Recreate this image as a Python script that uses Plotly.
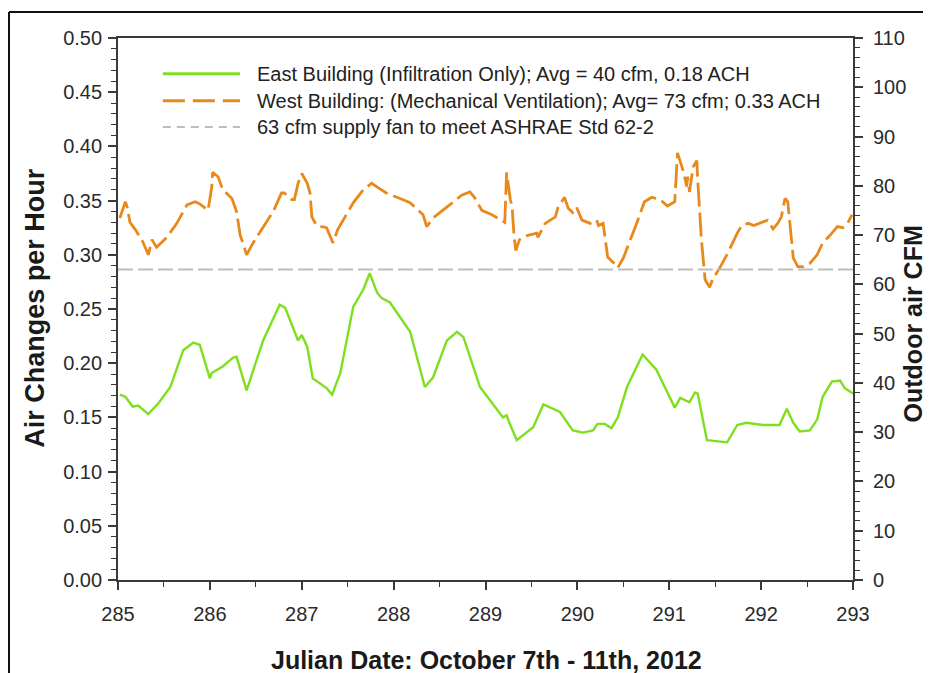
import plotly.graph_objects as go

# ---- data ----
east_day = [285.02, 285.08, 285.16, 285.22, 285.33, 285.44, 285.57, 285.71, 285.82, 285.89, 286.0, 286.02,
            286.14, 286.25, 286.29, 286.40, 286.58, 286.76, 286.82, 286.96, 287.0, 287.06, 287.12, 287.27,
            287.33, 287.42, 287.56, 287.67, 287.74, 287.82, 287.87, 287.96, 288.18, 288.34, 288.43, 288.58,
            288.69, 288.76, 288.94, 289.05, 289.19, 289.23, 289.26, 289.34, 289.52, 289.63, 289.81, 289.95,
            290.06, 290.17, 290.22, 290.30, 290.37, 290.44, 290.54, 290.71, 290.86, 291.06, 291.12, 291.22,
            291.28, 291.31, 291.41, 291.63, 291.74, 291.84, 292.02, 292.20, 292.28, 292.35, 292.42, 292.53,
            292.61, 292.67, 292.77, 292.86, 292.91, 293.0]
east_ach = [0.171, 0.169, 0.160, 0.161, 0.153, 0.163, 0.178, 0.212, 0.219, 0.217, 0.186, 0.191,
            0.197, 0.205, 0.206, 0.175, 0.221, 0.254, 0.251, 0.221, 0.226, 0.215, 0.186, 0.177,
            0.171, 0.191, 0.252, 0.268, 0.283, 0.265, 0.260, 0.256, 0.229, 0.178, 0.187, 0.221,
            0.229, 0.224, 0.178, 0.166, 0.150, 0.152, 0.145, 0.129, 0.141, 0.162, 0.155, 0.138,
            0.136, 0.138, 0.144, 0.144, 0.140, 0.150, 0.178, 0.208, 0.194, 0.159, 0.168, 0.164,
            0.173, 0.172, 0.129, 0.127, 0.143, 0.145, 0.143, 0.143, 0.158, 0.145, 0.137, 0.138,
            0.148, 0.169, 0.183, 0.184, 0.177, 0.172]

west_day = [285.02, 285.08, 285.10, 285.13, 285.19, 285.27, 285.33, 285.37, 285.42, 285.53, 285.64, 285.75,
            285.84, 285.89, 285.98, 286.02, 286.03, 286.09, 286.14, 286.24, 286.29, 286.33, 286.36, 286.40,
            286.47, 286.58, 286.69, 286.78, 286.81, 286.89, 286.92, 286.96, 287.0, 287.06, 287.09, 287.11,
            287.16, 287.27, 287.34, 287.39, 287.56, 287.67, 287.76, 287.83, 287.92, 288.07, 288.18, 288.32,
            288.36, 288.43, 288.50, 288.61, 288.74, 288.83, 288.88, 288.96, 289.07, 289.16, 289.21, 289.23,
            289.27, 289.29, 289.31, 289.33, 289.37, 289.46, 289.56, 289.57, 289.65, 289.76, 289.79, 289.86,
            289.90, 289.95, 289.99, 290.05, 290.14, 290.21, 290.23, 290.28, 290.33, 290.39, 290.44, 290.50,
            290.57, 290.65, 290.73, 290.81, 290.90, 290.98, 291.06, 291.08, 291.09, 291.15, 291.19, 291.20,
            291.22, 291.26, 291.30, 291.31, 291.35, 291.39, 291.44, 291.47, 291.55, 291.64, 291.74, 291.79,
            291.86, 291.92, 291.99, 292.07, 292.13, 292.18, 292.22, 292.26, 292.29, 292.32, 292.35, 292.40,
            292.46, 292.53, 292.61, 292.67, 292.75, 292.83, 292.89, 292.94, 292.99]
west_ach = [0.334, 0.349, 0.344, 0.330, 0.323, 0.312, 0.300, 0.314, 0.307, 0.316, 0.329, 0.346,
            0.349, 0.347, 0.341, 0.362, 0.376, 0.372, 0.360, 0.352, 0.340, 0.318, 0.311, 0.300,
            0.311, 0.325, 0.340, 0.357, 0.357, 0.351, 0.351, 0.366, 0.375, 0.366, 0.357, 0.335,
            0.327, 0.325, 0.311, 0.323, 0.348, 0.360, 0.366, 0.362, 0.357, 0.352, 0.348, 0.337,
            0.326, 0.334, 0.339, 0.346, 0.355, 0.358, 0.353, 0.341, 0.337, 0.332, 0.330, 0.376,
            0.351, 0.344, 0.318, 0.304, 0.314, 0.318, 0.320, 0.316, 0.329, 0.335, 0.344, 0.353,
            0.343, 0.339, 0.344, 0.332, 0.329, 0.332, 0.327, 0.329, 0.298, 0.293, 0.288, 0.297,
            0.312, 0.330, 0.349, 0.353, 0.351, 0.345, 0.349, 0.375, 0.394, 0.378, 0.363, 0.372,
            0.358, 0.381, 0.387, 0.369, 0.314, 0.277, 0.270, 0.277, 0.288, 0.302, 0.320, 0.327,
            0.329, 0.327, 0.329, 0.332, 0.324, 0.329, 0.335, 0.352, 0.349, 0.323, 0.297, 0.289,
            0.289, 0.292, 0.300, 0.311, 0.318, 0.326, 0.325, 0.329, 0.337]

fan_day = [285, 293]
fan_cfm = [63, 63]

x_ticks = [285, 286, 287, 288, 289, 290, 291, 292, 293]
legend_labels = ["East Building (Infiltration Only); Avg = 40 cfm, 0.18 ACH",
                 "West Building: (Mechanical Ventilation); Avg= 73 cfm; 0.33 ACH",
                 "63 cfm supply fan to meet ASHRAE Std 62-2"]
x_title = "Julian Date: October 7th - 11th, 2012"
y_title = "Air Changes per Hour"
y2_title = "Outdoor air CFM"

GREEN = "#7FDF1E"
ORANGE = "#E8891C"
GREY = "#BDBDBD"
AXC = "#3A3A3A"
FONT = "Liberation Sans, Arial, sans-serif"

fig = go.Figure()
fig.add_trace(go.Scatter(x=fan_day, y=fan_cfm, yaxis="y2", mode="lines",
                         line=dict(color=GREY, width=2, dash="15px,5px"), showlegend=False))
fig.add_trace(go.Scatter(x=west_day, y=west_ach, mode="lines",
                         line=dict(color=ORANGE, width=2.8, dash="24px,6px"), showlegend=False))
fig.add_trace(go.Scatter(x=east_day, y=east_ach, mode="lines",
                         line=dict(color=GREEN, width=2.4), showlegend=False))

# manual legend (long line samples like the reference)
styles = [dict(color=GREEN, width=3), dict(color=ORANGE, width=3, dash="22px,8px"),
          dict(color=GREY, width=2, dash="8px,6px")]
rows_y = [0.934, 0.884, 0.836]
shapes = []
annotations = []
for lab, st, yy in zip(legend_labels, styles, rows_y):
    shapes.append(dict(type="line", xref="paper", yref="paper", x0=0.061, x1=0.166, y0=yy, y1=yy, line=st))
    annotations.append(dict(xref="paper", yref="paper", x=0.186, y=yy, text=lab, showarrow=False,
                            xanchor="left", yanchor="middle", font=dict(family=FONT, size=20, color="#222")))

# axis titles
annotations.append(dict(xref="paper", yref="paper", x=0.502, y=-0.148, text="<b>%s</b>" % x_title,
                        showarrow=False, xanchor="center", yanchor="middle",
                        font=dict(family=FONT, size=25, color="#1a1a1a")))
annotations.append(dict(xref="paper", yref="paper", x=-0.113, y=0.502, text="<b>%s</b>" % y_title,
                        showarrow=False, xanchor="center", yanchor="middle", textangle=-90,
                        font=dict(family=FONT, size=27, color="#1a1a1a")))
annotations.append(dict(xref="paper", yref="paper", x=1.082, y=0.472, text="<b>%s</b>" % y2_title,
                        showarrow=False, xanchor="center", yanchor="middle", textangle=-90,
                        font=dict(family=FONT, size=25, color="#1a1a1a")))

# outer frame (top and left edges visible in the reference)
shapes.append(dict(type="line", xref="paper", yref="paper", x0=-0.1483, x1=1.2, y0=1.048, y1=1.048,
                   line=dict(color="#111", width=2)))
shapes.append(dict(type="line", xref="paper", yref="paper", x0=-0.1483, x1=-0.1483, y0=-0.3, y1=1.048,
                   line=dict(color="#111", width=2)))

tickfont = dict(family=FONT, size=20, color="#2a2a2a")
fig.update_layout(
    width=923, height=665,
    margin=dict(l=110, r=78, t=30, b=93, autoexpand=False),
    paper_bgcolor="white", plot_bgcolor="white",
    xaxis=dict(range=[285, 293], tickvals=x_ticks, ticks="outside", ticklen=8, tickwidth=1.5,
               tickcolor=AXC, showline=True, linecolor=AXC, linewidth=1.8, mirror=True,
               showgrid=False, zeroline=False, tickfont=tickfont, automargin=False, ticklabelstandoff=7,
               minor=dict(dtick=0.5, ticks="outside", ticklen=5, tickcolor=AXC, tickwidth=1.2)),
    yaxis=dict(range=[0, 0.5], dtick=0.05, tickformat=".2f", ticks="outside", ticklen=8, tickwidth=1.5,
               tickcolor=AXC, showline=True, linecolor=AXC, linewidth=1.8, automargin=False,
               showgrid=False, zeroline=False, tickfont=tickfont, ticklabelstandoff=2,
               minor=dict(dtick=0.01, ticks="outside", ticklen=5, tickcolor=AXC, tickwidth=1.2)),
    yaxis2=dict(range=[0, 110], dtick=10, overlaying="y", side="right", ticks="outside", ticklen=8,
                tickwidth=1.5, tickcolor=AXC, showline=True, linecolor=AXC, linewidth=1.8, automargin=False,
                showgrid=False, zeroline=False, tickfont=tickfont, ticklabelstandoff=6,
                minor=dict(dtick=2, ticks="outside", ticklen=5, tickcolor=AXC, tickwidth=1.2)),
    shapes=shapes, annotations=annotations,
)

fig.write_html("out.html")
